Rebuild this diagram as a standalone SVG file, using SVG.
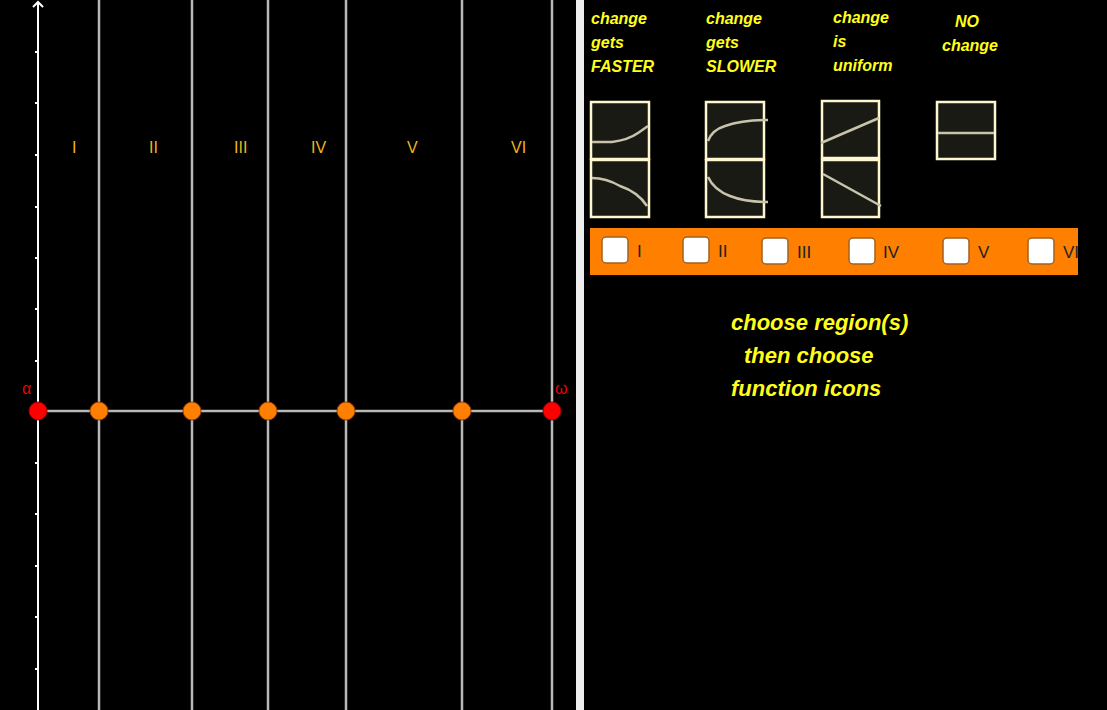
<svg xmlns="http://www.w3.org/2000/svg" width="1107" height="710" viewBox="0 0 1107 710">
<style>
.v{stroke:#b8b8b8;stroke-width:2.5}
.rl{fill:#f0b41e;font:16px "Liberation Sans",sans-serif}
.hd{fill:#ffff1a;font:italic bold 16px "Liberation Sans",sans-serif}
.big{fill:#ffff1a;font:italic bold 22px "Liberation Sans",sans-serif}
.ic{fill:#1a1a14;stroke:#fdf7d0;stroke-width:2.5}
.cv{fill:none;stroke:#c8c3ab;stroke-width:2.5}
.cb{fill:#fff;stroke:#a06020;stroke-width:1.5}
.cl{fill:#222;font:17px "Liberation Sans",sans-serif}
.pt{fill:#ff8000;stroke:#a04000;stroke-width:1}
</style>
<rect width="1107" height="710" fill="#000"/>
<rect x="576" y="0" width="8" height="710" fill="#eeeeee"/>
<g id="axes">
<line x1="38" y1="2" x2="38" y2="710" stroke="#fff" stroke-width="2"/>
<path d="M33 7 L38 2 L43 7" fill="none" stroke="#fff" stroke-width="2"/>
<g stroke="#fff" stroke-width="2">
<line x1="35" y1="52" x2="38" y2="52"/><line x1="35" y1="103" x2="38" y2="103"/><line x1="35" y1="155" x2="38" y2="155"/><line x1="35" y1="207" x2="38" y2="207"/><line x1="35" y1="258" x2="38" y2="258"/><line x1="35" y1="309" x2="38" y2="309"/><line x1="35" y1="361" x2="38" y2="361"/><line x1="35" y1="463" x2="38" y2="463"/><line x1="35" y1="514" x2="38" y2="514"/><line x1="35" y1="566" x2="38" y2="566"/><line x1="35" y1="617" x2="38" y2="617"/><line x1="35" y1="669" x2="38" y2="669"/>
</g>
</g>
<g id="connectors">
<line class="v" x1="99" y1="0" x2="99" y2="710"/>
<line class="v" x1="192" y1="0" x2="192" y2="710"/>
<line class="v" x1="268" y1="0" x2="268" y2="710"/>
<line class="v" x1="346" y1="0" x2="346" y2="710"/>
<line class="v" x1="462" y1="0" x2="462" y2="710"/>
<line class="v" x1="552" y1="0" x2="552" y2="710"/>
<line class="v" x1="38" y1="411" x2="552" y2="411"/>
</g>
<g id="labels">
<text class="rl" x="72" y="153">I</text>
<text class="rl" x="149" y="153">II</text>
<text class="rl" x="234" y="153">III</text>
<text class="rl" x="311" y="153">IV</text>
<text class="rl" x="407" y="153">V</text>
<text class="rl" x="511" y="153">VI</text>
<text x="22" y="394" fill="#e00" font-family="Liberation Sans,sans-serif" font-size="16">α</text>
<text x="555" y="394" fill="#e00" font-family="Liberation Sans,sans-serif" font-size="16">ω</text>
</g>
<g id="points">
<circle cx="38" cy="411" r="9" fill="#ff0000" stroke="#900" stroke-width="1"/>
<circle class="pt" cx="99" cy="411" r="9"/>
<circle class="pt" cx="192" cy="411" r="9"/>
<circle class="pt" cx="268" cy="411" r="9"/>
<circle class="pt" cx="346" cy="411" r="9"/>
<circle class="pt" cx="462" cy="411" r="9"/>
<circle cx="552" cy="411" r="9" fill="#ff0000" stroke="#900" stroke-width="1"/>
</g>
<g id="headings">
<text class="hd"><tspan x="591" y="24">change</tspan><tspan x="591" y="48">gets</tspan><tspan x="591" y="72">FASTER</tspan></text>
<text class="hd"><tspan x="706" y="24">change</tspan><tspan x="706" y="48">gets</tspan><tspan x="706" y="72">SLOWER</tspan></text>
<text class="hd"><tspan x="833" y="23">change</tspan><tspan x="833" y="47">is</tspan><tspan x="833" y="71">uniform</tspan></text>
<text class="hd"><tspan x="955" y="27">NO</tspan><tspan x="942" y="51">change</tspan></text>
</g>
<g id="icon-faster">
<rect class="ic" x="591" y="102" width="58" height="57"/>
<rect class="ic" x="591" y="160" width="58" height="57"/>
<path class="cv" d="M592 142 L612 142 Q628 140 638 133 L648 126"/>
<path class="cv" d="M592 178 Q606 178 620 186 Q638 192 647 206"/>
</g>
<g id="icon-slower">
<rect class="ic" x="706" y="102" width="58" height="57"/>
<rect class="ic" x="706" y="160" width="58" height="57"/>
<path class="cv" d="M708 141 Q712 130 725 126 Q742 120 768 120"/>
<path class="cv" d="M708 177 Q714 190 730 196 Q745 202 768 202"/>
</g>
<g id="icon-uniform">
<rect class="ic" x="822" y="101" width="57" height="57"/>
<rect class="ic" x="822" y="160" width="57" height="57"/>
<path class="cv" d="M821 143 L879 118"/>
<path class="cv" d="M823 174 L881 206"/>
</g>
<g id="icon-none">
<rect class="ic" x="937" y="102" width="58" height="57"/>
<line class="cv" x1="938" y1="133" x2="994" y2="133"/>
</g>
<g id="checkbar">
<rect x="590" y="228" width="488" height="47" fill="#ff8000"/>
<rect class="cb" x="602" y="237" width="26" height="26" rx="4"/><text class="cl" x="637" y="257">I</text>
<rect class="cb" x="683" y="237" width="26" height="26" rx="4"/><text class="cl" x="718" y="257">II</text>
<rect class="cb" x="762" y="238" width="26" height="26" rx="4"/><text class="cl" x="797" y="258">III</text>
<rect class="cb" x="849" y="238" width="26" height="26" rx="4"/><text class="cl" x="883" y="258">IV</text>
<rect class="cb" x="943" y="238" width="26" height="26" rx="4"/><text class="cl" x="978" y="258">V</text>
<rect class="cb" x="1028" y="238" width="26" height="26" rx="4"/><text class="cl" x="1063" y="258">VI</text>
</g>
<g id="instructions">
<text class="big" x="731" y="330">choose region(s)</text>
<text class="big" x="744" y="363">then choose</text>
<text class="big" x="731" y="396">function icons</text>
</g>
</svg>
